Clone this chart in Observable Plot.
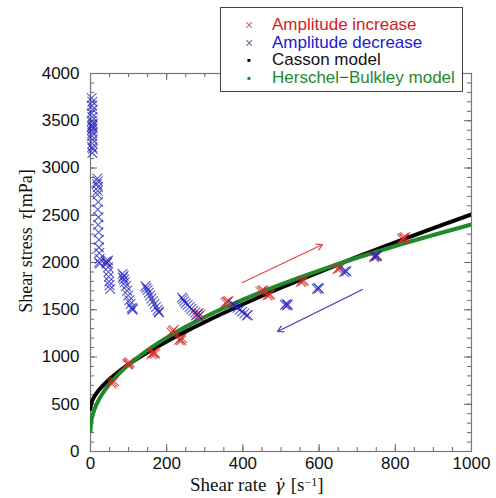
<!DOCTYPE html>
<html><head><meta charset="utf-8">
<script src="https://cdn.jsdelivr.net/npm/d3@7"></script>
<script src="https://cdn.jsdelivr.net/npm/@observablehq/plot@0.6"></script>
<style>
body{margin:0;background:#fff;}
#wrap{position:relative;width:496px;height:498px;}
#legend{position:absolute;left:220px;top:7px;width:241px;height:83px;border:1px solid #444;background:#fff;font-family:"Liberation Sans",Arial,sans-serif;font-size:17px;}
.row{position:absolute;left:0;height:18px;line-height:18px;}
.sym{position:absolute;left:21px;width:14px;text-align:center;font-size:14px;}
.lab{position:absolute;left:51px;white-space:nowrap;}
</style></head>
<body><div id="wrap"></div>
<script>
// ---- data ----
const increaseX = [55,58,62, 97,100,103,99, 160,165,168,170,163, 212,216,219, 232,236,240,238, 276,280,284,288, 354,358,362,360, 446,450,454, 464,468,472, 552,556,560, 648,652,656, 744,748,752, 818,822,826,824];
const increaseY = [720,735,745, 920,935,945,925, 1030,1040,1050,1035,1045, 1260,1275,1285, 1180,1190,1200,1175, 1440,1455,1465,1450, 1575,1585,1595,1580, 1690,1700,1705, 1650,1660,1665, 1795,1805,1810, 1930,1940,1945, 2055,2065,2075, 2250,2260,2270,2255];

const decreaseX = [3,5,4,6,3,5,4,6,5,4,6,3,5,4,6,5,4,6,5,
  18,19,17,20,19,18,20,19,21,20,21,22,22,23,24,22,25,
  40,44,46,42, 46,47,48,49,50,52,
  84,87,85,88,90, 93,96,99,102,105,108,110,111,
  144,147,150,153,156,160,164,168,172,176,179,180,
  240,243,246,250,255,260,265,270,275,280,284,
  374,380,386,392,398,404,410,413,
  510,514,518,516, 594,597,600, 665,669,672, 745,749,752];
const decreaseY = [3740,3700,3660,3620,3580,3540,3500,3470,3450,3440,3420,3400,3370,3340,3300,3260,3220,3200,3160,
  2890,2860,2830,2800,2760,2720,2640,2560,2480,2400,2320,2240,2160,2100,2040,2000,1990,
  2010,2000,2020,1990, 1950,1900,1850,1800,1760,1720,
  1880,1860,1840,1820,1790, 1750,1700,1650,1600,1560,1520,1500,1510,
  1750,1730,1710,1680,1650,1620,1590,1560,1530,1500,1480,1470,
  1630,1610,1590,1570,1550,1530,1510,1490,1470,1450,1430,
  1550,1540,1520,1500,1480,1460,1440,1445,
  1550,1560,1555,1545, 1720,1730,1725, 1900,1910,1905, 2065,2075,2070];

const modelX   = [0,1,2,5,10,20,30,50,75,100,150,200,250,300,400,500,600,700,800,900,1000];
const cassonY  = [450,489,506,541,581,640,687,766,848,921,1049,1165,1271,1371,1558,1733,1899,2059,2213,2363,2509];
const hbY      = [215,287,317,376,441,533,603,715,825,918,1074,1205,1319,1423,1607,1769,1915,2050,2175,2291,2402];

const arrowX1 = [399, 714];
const arrowY1 = [1788, 1714];
const arrowX2 = [609, 491];
const arrowY2 = [2190, 1270];
const arrowColor = ["#e04848", "#3a3ac8"];

const xMajor = [0,200,400,600,800,1000];
const xMinor = d3.range(0, 1001, 50);
const yMajor = [0,500,1000,1500,2000,2500,3000,3500,4000];
const yMinor = d3.range(0, 4001, 100);

// ---- tables ----
const inc = increaseX.map((x,i)=>({x, y: increaseY[i]}));
const dec = decreaseX.map((x,i)=>({x, y: decreaseY[i]}));
const casson = modelX.map((x,i)=>({x, y: cassonY[i]}));
const hb = modelX.map((x,i)=>({x, y: hbY[i]}));
const arrows = arrowX1.map((x1,i)=>({x1, y1: arrowY1[i], x2: arrowX2[i], y2: arrowY2[i], c: arrowColor[i]}));

const W = 496, H = 498, mL = 90, mR = 25, mT = 73, mB = 47;
const fw = W - mL - mR, fh = H - mT - mB;

const plot = Plot.plot({
  width: W, height: H,
  marginLeft: mL, marginRight: mR, marginTop: mT, marginBottom: mB,
  style: {fontFamily: "'Liberation Sans', Arial, sans-serif", fontSize: "17px", color: "#111", background: "#fff"},
  x: {domain: [0, 1000], axis: null},
  y: {domain: [0, 4000], axis: null},
  marks: [
    Plot.axisX({ticks: xMajor, tickSize: 0, tickPadding: 5, label: null, tickFormat: d => String(d)}),
    Plot.axisY({ticks: yMajor, tickSize: 0, tickPadding: 11, label: null, tickFormat: d => String(d)}),
    // inward ticks
    Plot.ruleX(xMinor, {x: d => d, insetTop: fh - 4, stroke: "#666"}),
    Plot.ruleX(xMinor, {x: d => d, insetBottom: fh - 4, stroke: "#666"}),
    Plot.ruleX(xMajor, {x: d => d, insetTop: fh - 7, stroke: "#666"}),
    Plot.ruleX(xMajor, {x: d => d, insetBottom: fh - 7, stroke: "#666"}),
    Plot.ruleY(yMinor, {y: d => d, insetRight: fw - 4, stroke: "#666"}),
    Plot.ruleY(yMinor, {y: d => d, insetLeft: fw - 4, stroke: "#666"}),
    Plot.ruleY(yMajor, {y: d => d, insetRight: fw - 7, stroke: "#666"}),
    Plot.ruleY(yMajor, {y: d => d, insetLeft: fw - 7, stroke: "#666"}),
    Plot.frame({stroke: "#777", strokeWidth: 1.2}),
    Plot.line(casson, {x: "x", y: "y", stroke: "#000", strokeWidth: 4, curve: "monotone-x", clip: true}),
    Plot.line(hb, {x: "x", y: "y", stroke: "#1f8a2a", strokeWidth: 4, curve: "monotone-x", clip: true}),
    Plot.dot(inc, {x: "x", y: "y", symbol: "times", r: 4.5, stroke: "#d42a2a", strokeOpacity: 0.8, strokeWidth: 1.1}),
    Plot.dot(dec, {x: "x", y: "y", symbol: "times", r: 4.5, stroke: "#2222c0", strokeOpacity: 0.75, strokeWidth: 1.1}),
    Plot.arrow(arrows, {x1: "x1", y1: "y1", x2: "x2", y2: "y2", stroke: "c", strokeWidth: 1.2, headLength: 8, bend: false})
  ]
});

const svg = d3.select(plot);
const serif = "'Liberation Serif', 'DejaVu Serif', serif";
// x axis title
const xt = svg.append("text").attr("x", 190).attr("y", 491).attr("text-anchor", "start")
  .style("font-family", serif).style("font-size", "19px").attr("fill", "#111");
xt.append("tspan").text("Shear rate");
xt.append("tspan").attr("dx", 8).attr("font-style", "italic").style("font-family", "'DejaVu Serif', serif").style("font-size", "17px").text("γ\u0307");
xt.append("tspan").attr("dx", 6).text("[s");
xt.append("tspan").attr("dy", -5).style("font-size", "12px").text("−1");
xt.append("tspan").attr("dy", 5).text("]");
// y axis title
const yt = svg.append("text").attr("transform", "translate(32,241) rotate(-90)").attr("text-anchor", "middle")
  .style("font-family", serif).style("font-size", "18px").attr("fill", "#111");
yt.append("tspan").text("Shear stress ");
yt.append("tspan").attr("dx", 3).attr("font-style", "italic").text("τ");
yt.append("tspan").text("[mPa]");

const wrap = document.getElementById("wrap");
wrap.appendChild(plot);

// legend
const legendItems = [
  {label: "Amplitude increase", color: "#d42020", sym: "×", symColor: "#c87070"},
  {label: "Amplitude decrease", color: "#2020d0", sym: "×", symColor: "#7070a0"},
  {label: "Casson model", color: "#111", sym: "■", symColor: "#000"},
  {label: "Herschel−Bulkley model", color: "#1f8a2a", sym: "■", symColor: "#1f8a2a"}
];
const legend = document.createElement("div");
legend.id = "legend";
legendItems.forEach((it, i) => {
  const row = document.createElement("div");
  row.className = "row";
  row.style.top = (8 + i * 17.7) + "px";
  const s = document.createElement("span");
  s.className = "sym";
  s.textContent = it.sym;
  s.style.color = it.symColor;
  if (it.sym === "■") { s.style.fontSize = "6px"; }
  const l = document.createElement("span");
  l.className = "lab";
  l.textContent = it.label;
  l.style.color = it.color;
  row.appendChild(s); row.appendChild(l);
  legend.appendChild(row);
});
wrap.appendChild(legend);
</script>
</body></html>
